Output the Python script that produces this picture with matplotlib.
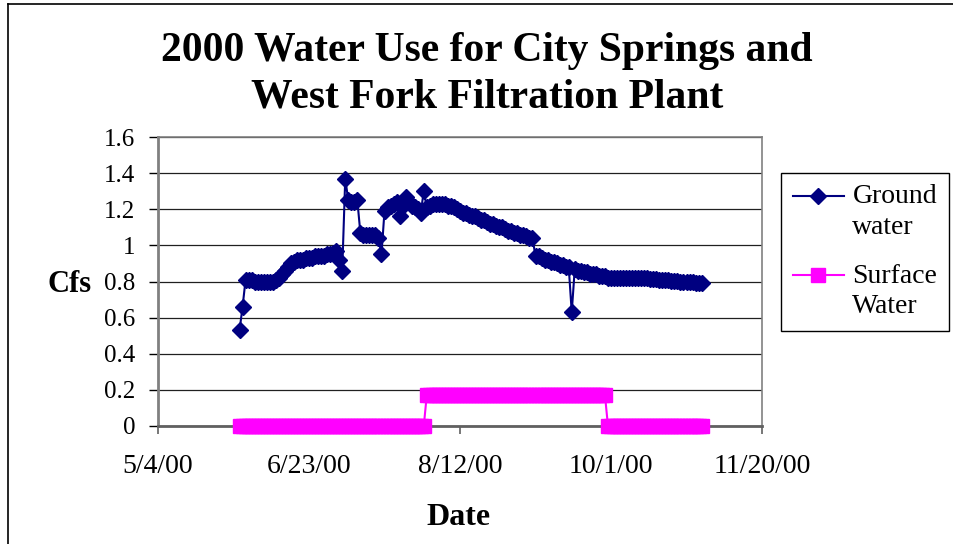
import matplotlib
matplotlib.use("Agg")
import matplotlib.pyplot as plt
from matplotlib.lines import Line2D
from matplotlib.legend_handler import HandlerLine2D
import pandas as pd

plt.rcParams['font.family'] = ['Liberation Serif', 'DejaVu Serif']

# daily readings, 5/31/00 .. 10/31/00
dates = pd.date_range("2000-05-31", "2000-10-31", freq="D")

ground = [
    0.53, 0.66, 0.81, 0.81, 0.81, 0.80, 0.80, 0.80, 0.80, 0.80,
    0.80, 0.80, 0.81, 0.82, 0.84, 0.86, 0.88, 0.90, 0.91, 0.92,
    0.92, 0.92, 0.93, 0.93, 0.93, 0.94, 0.94, 0.94, 0.94, 0.95,
    0.95, 0.96, 0.97, 0.92, 0.86, 1.37, 1.25, 1.24, 1.24, 1.25,
    1.07, 1.06, 1.06, 1.06, 1.06, 1.06, 1.04, 0.95, 1.19, 1.21,
    1.22, 1.23, 1.24, 1.16, 1.22, 1.27, 1.24, 1.22, 1.21, 1.20,
    1.18, 1.30, 1.21, 1.22, 1.23, 1.23, 1.23, 1.23, 1.23, 1.22,
    1.22, 1.21, 1.20, 1.19, 1.18, 1.18, 1.17, 1.16, 1.16, 1.15,
    1.14, 1.14, 1.13, 1.12, 1.12, 1.11, 1.10, 1.10, 1.09, 1.08,
    1.08, 1.07, 1.07, 1.06, 1.06, 1.05, 1.04, 1.04, 0.94, 0.94,
    0.93, 0.92, 0.92, 0.91, 0.91, 0.90, 0.89, 0.89, 0.88, 0.88,
    0.63, 0.87, 0.86, 0.86, 0.85, 0.85, 0.84, 0.84, 0.84, 0.83,
    0.83, 0.83, 0.82, 0.82, 0.82, 0.82, 0.82, 0.82, 0.82, 0.82,
    0.82, 0.82, 0.82, 0.82, 0.82, 0.82, 0.815, 0.813, 0.812, 0.81,
    0.81, 0.808, 0.806, 0.805, 0.804, 0.803, 0.80, 0.80, 0.798, 0.797,
    0.795, 0.794, 0.792, 0.79,
]

surface = [
    0, 0, 0, 0, 0, 0, 0, 0, 0, 0,
    0, 0, 0, 0, 0, 0, 0, 0, 0, 0,
    0, 0, 0, 0, 0, 0, 0, 0, 0, 0,
    0, 0, 0, 0, 0, 0, 0, 0, 0, 0,
    0, 0, 0, 0, 0, 0, 0, 0, 0, 0,
    0, 0, 0, 0, 0, 0, 0, 0, 0, 0,
    0, 0, 0.17, 0.17, 0.17, 0.17, 0.17, 0.17, 0.17, 0.17,
    0.17, 0.17, 0.17, 0.17, 0.17, 0.17, 0.17, 0.17, 0.17, 0.17,
    0.17, 0.17, 0.17, 0.17, 0.17, 0.17, 0.17, 0.17, 0.17, 0.17,
    0.17, 0.17, 0.17, 0.17, 0.17, 0.17, 0.17, 0.17, 0.17, 0.17,
    0.17, 0.17, 0.17, 0.17, 0.17, 0.17, 0.17, 0.17, 0.17, 0.17,
    0.17, 0.17, 0.17, 0.17, 0.17, 0.17, 0.17, 0.17, 0.17, 0.17,
    0.17, 0.17, 0, 0, 0, 0, 0, 0, 0, 0,
    0, 0, 0, 0, 0, 0, 0, 0, 0, 0,
    0, 0, 0, 0, 0, 0, 0, 0, 0, 0,
    0, 0, 0, 0,
]

tick_dates = ["2000-05-04", "2000-06-23", "2000-08-12", "2000-10-01", "2000-11-20"]
tick_labels = ["5/4/00", "6/23/00", "8/12/00", "10/1/00", "11/20/00"]
y_ticks = [0, 0.2, 0.4, 0.6, 0.8, 1.0, 1.2, 1.4, 1.6]
y_labels = ["0", "0.2", "0.4", "0.6", "0.8", "1", "1.2", "1.4", "1.6"]

navy = "#000080"
magenta = "#FF00FF"


class FirstLineHandler(HandlerLine2D):
    # put the legend marker on the first line of a two-line label
    def create_artists(self, legend, orig_handle, xdescent, ydescent,
                       width, height, fontsize, trans):
        return super().create_artists(legend, orig_handle, xdescent,
                                      ydescent - 23, width, height,
                                      fontsize, trans)


fig = plt.figure(figsize=(9.54, 5.44), dpi=100)
W, H = 954, 544
ax = fig.add_axes([158 / W, 1 - 426 / H, (762 - 158) / W, (426 - 137) / H])

ax.plot(dates, ground, color=navy, lw=1.5, marker='D', ms=8,
        mfc=navy, mec=navy, zorder=3, label="Ground\nwater")
ax.plot(dates, surface, color=magenta, lw=1.5, marker='s', ms=10.5,
        mfc=magenta, mec=magenta, zorder=4, clip_on=False,
        label="Surface\nWater")

ax.set_xlim(pd.Timestamp(tick_dates[0]), pd.Timestamp(tick_dates[-1]))
ax.set_ylim(0, 1.6)
ax.set_xticks(pd.to_datetime(tick_dates))
ax.set_xticklabels(tick_labels)
ax.set_yticks(y_ticks)
ax.set_yticklabels(y_labels)

ax.yaxis.grid(True, color='#202020', lw=0.9)
ax.set_axisbelow(True)

for s in ['top', 'right']:
    ax.spines[s].set_color('#808080')
    ax.spines[s].set_linewidth(1.2)
ax.spines['left'].set_color('#808080')
ax.spines['left'].set_linewidth(2)
ax.spines['bottom'].set_color('#606060')
ax.spines['bottom'].set_linewidth(2)

ax.tick_params(axis='y', direction='out', length=6.5, width=1, color='black',
               pad=10, labelsize=18)
ax.tick_params(axis='x', direction='out', length=6, width=1.2, color='#606060',
               pad=14.5, labelsize=20)

fig.text(487 / W, 1 - 74 / H,
         "2000 Water Use for City Springs and\nWest Fork Filtration Plant",
         ha='center', va='center', fontsize=30, fontweight='bold',
         linespacing=1.3)
fig.text(92 / W, 1 - 292 / H, "Cfs", ha='right', va='baseline',
         fontsize=22, fontweight='bold')
fig.text(459 / W, 1 - 525 / H, "Date", ha='center', va='baseline',
         fontsize=23, fontweight='bold')

h, l = ax.get_legend_handles_labels()
leg = fig.legend(h, l, loc='upper left',
                 bbox_to_anchor=(781 / W, 1 - 172.7 / H),
                 bbox_transform=fig.transFigure, borderaxespad=0,
                 fontsize=20, numpoints=1, handlelength=1.85,
                 handletextpad=0.3, borderpad=0.42, labelspacing=0.85,
                 fancybox=False, framealpha=1, edgecolor='black',
                 handler_map={Line2D: FirstLineHandler()})
leg.get_frame().set_linewidth(1)
for t in leg.get_texts():
    t.set_linespacing(1.3)

# outer chart border (left and top edges are in view)
fig.add_artist(Line2D([8.5 / W, 8.5 / W], [0, 1 - 3.5 / H],
                      transform=fig.transFigure, color='black', lw=1.2))
fig.add_artist(Line2D([8.5 / W, 1], [1 - 3.5 / H, 1 - 3.5 / H],
                      transform=fig.transFigure, color='black', lw=1.2))

fig.savefig("out.png", dpi=100)
